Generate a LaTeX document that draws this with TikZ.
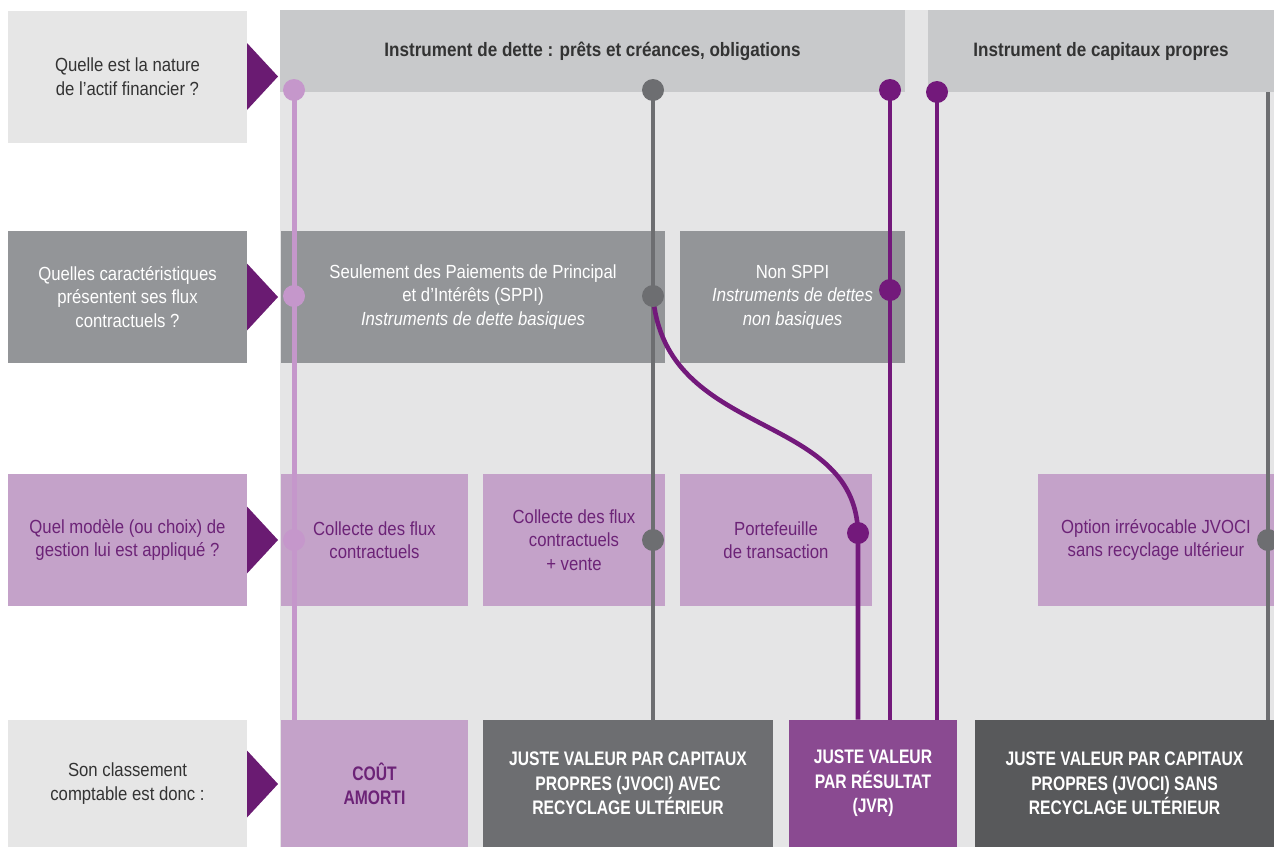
\documentclass[tikz,border=0pt]{standalone}
\usepackage{fontspec}
\setmainfont{Liberation Sans}[FakeStretch=0.88]
\newfontfamily\capsfont{Liberation Sans}[FakeStretch=0.8]
\usepackage{tikz}

\definecolor{bgray}{HTML}{E5E5E6}
\definecolor{qgray}{HTML}{E6E6E6}
\definecolor{hgray}{HTML}{C8C9CB}
\definecolor{mgray}{HTML}{939598}
\definecolor{dgray}{HTML}{6D6E71}
\definecolor{ddgray}{HTML}{58595B}
\definecolor{lpurple}{HTML}{C4A2C9}
\definecolor{lpline}{HTML}{C597CB}
\definecolor{dpurple}{HTML}{6A1B72}
\definecolor{purpline}{HTML}{73197B}
\definecolor{jvr}{HTML}{8A4A91}
\definecolor{tpurple}{HTML}{6C2377}
\definecolor{tdark}{HTML}{333333}

\tikzset{
  box/.style={rectangle, inner sep=0pt, align=center, font=\fontsize{9.5}{11.8}\selectfont},
  qbox/.style={box, minimum width=119.5pt, minimum height=66pt},
  headbox/.style={box, fill=hgray, text=tdark, font=\bfseries\fontsize{9.7}{12}\selectfont, minimum height=41pt},
  resbox/.style={box, font=\capsfont\bfseries\fontsize{9.8}{12.2}\selectfont, text=white, minimum height=63.5pt},
  dot/.style={circle, inner sep=0pt, minimum size=11pt}
}

\begin{document}
\begin{tikzpicture}[x=0.5pt,y=-0.5pt]

\useasboundingbox (0,0) rectangle (1274,847);
\fill[white] (0,0) rectangle (1274,847);

% fond
\fill[bgray] (280,10) rectangle (1274,847);

% questions
\node[qbox, fill=qgray, text=tdark] (q1) at (127.5,76.5) {Quelle est la nature\\de l'actif financier ?};
\node[qbox, fill=mgray, text=white] (q2) at (127.5,297) {Quelles caractéristiques\\présentent ses flux\\contractuels ?};
\node[qbox, fill=lpurple, text=tpurple] (q3) at (127.5,540) {Quel modèle (ou choix) de\\gestion lui est appliqué ?};
\node[qbox, fill=qgray, text=tdark, minimum height=63.5pt] (q4) at (127.5,783.5) {Son classement\\comptable est donc :};

\fill[dpurple] (247,43) -- (278,76.5) -- (247,110) -- cycle;
\fill[dpurple] (247,263.5) -- (278,297) -- (247,330.5) -- cycle;
\fill[dpurple] (247,506.5) -- (278,540) -- (247,573.5) -- cycle;
\fill[dpurple] (247,750.5) -- (278,784) -- (247,817.5) -- cycle;

% en-tetes
\node[headbox, minimum width=312.5pt] (h1) at (592.5,51) {Instrument de dette : prêts et créances, obligations};
\node[headbox, minimum width=173pt] (h2) at (1101,51) {Instrument de capitaux propres};

% flux
\node[box, fill=mgray, text=white, minimum width=192pt, minimum height=66pt] (s1) at (473,297) {Seulement des Paiements de Principal\\et d'Intérêts (SPPI)\\\textit{Instruments de dette basiques}};
\node[box, fill=mgray, text=white, minimum width=112.5pt, minimum height=66pt] (s2) at (792.5,297) {Non SPPI\\\textit{Instruments de dettes}\\\textit{non basiques}};

% modeles de gestion
\node[box, fill=lpurple, text=tpurple, minimum width=93.5pt, minimum height=66pt] (m1) at (374.5,540) {Collecte des flux\\contractuels};
\node[box, fill=lpurple, text=tpurple, minimum width=91pt, minimum height=66pt] (m2) at (574,540) {Collecte des flux\\contractuels\\+ vente};
\node[box, fill=lpurple, text=tpurple, minimum width=96pt, minimum height=66pt] (m3) at (776,540) {Portefeuille\\de transaction};
\node[box, fill=lpurple, text=tpurple, minimum width=118pt, minimum height=66pt] (m4) at (1156,540) {Option irrévocable JVOCI\\sans recyclage ultérieur};

% classements
\node[resbox, fill=lpurple, text=tpurple, minimum width=93.5pt] (r1) at (374.5,783.5) {COÛT\\AMORTI};
\node[resbox, fill=dgray, minimum width=145pt] (r2) at (628,783.5) {JUSTE VALEUR PAR CAPITAUX\\PROPRES (JVOCI) AVEC\\RECYCLAGE ULTÉRIEUR};
\node[resbox, fill=jvr, minimum width=84pt] (r3) at (873,783.5) {JUSTE VALEUR\\PAR RÉSULTAT\\(JVR)};
\node[resbox, fill=ddgray, minimum width=150pt] (r4) at (1124.5,783.5) {JUSTE VALEUR PAR CAPITAUX\\PROPRES (JVOCI) SANS\\RECYCLAGE ULTÉRIEUR};

% points
\node[dot] (a1) at (294,90) {};
\node[dot] (a2) at (294,296) {};
\node[dot] (a3) at (294,540) {};
\node[dot] (b1) at (653,90) {};
\node[dot] (b2) at (653,296) {};
\node[dot] (b3) at (653,540) {};
\node[dot] (c1) at (890,90) {};
\node[dot] (c2) at (890,290) {};
\node[dot] (e1) at (937,92) {};
\node[dot] (t1) at (858,533) {};
\node[dot] (f1) at (1268,540) {};
\coordinate (f0) at (1268,92);

% lignes
\draw[lpline, line width=2.5pt] (a1.center) -- (a1.center |- r1.north);
\draw[dgray, line width=2.2pt] (b1.center) -- (b1.center |- r2.north);
\draw[purpline, line width=2.3pt] (c1.center) -- (c1.center |- r3.north);
\draw[purpline, line width=2.3pt] (e1.center) -- (e1.center |- r3.north);
\draw[purpline, line width=2.3pt] (b2.center) .. controls (665,440) and (855,410) .. (t1.center) -- (t1.center |- r3.north);
\draw[dgray, line width=2.2pt] (f0) -- (f0 |- r4.north);

\foreach \p/\c in {a1/lpline,a2/lpline,a3/lpline,b1/dgray,b2/dgray,b3/dgray,c1/purpline,c2/purpline,e1/purpline,t1/purpline,f1/dgray}
  \fill[\c] (\p) circle (5.5pt);

\end{tikzpicture}
\end{document}
